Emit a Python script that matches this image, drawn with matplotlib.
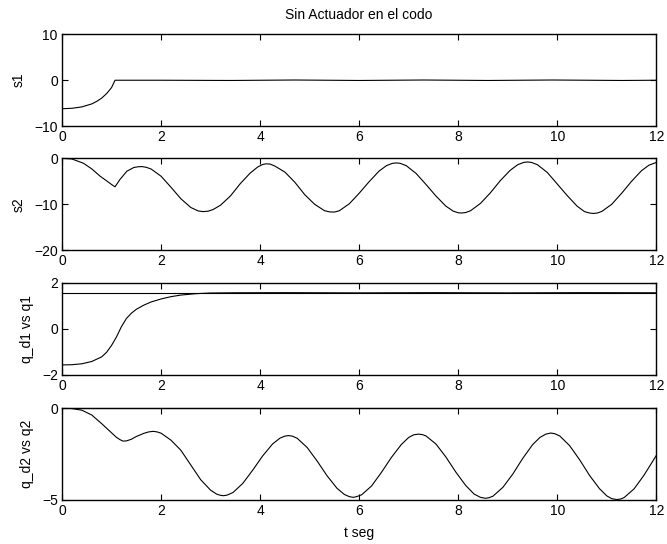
import numpy as np
import matplotlib
matplotlib.use("Agg")
import matplotlib.pyplot as plt

plt.rcParams['font.family'] = ['Liberation Sans', 'DejaVu Sans']
plt.rcParams['font.size'] = 10

# s1 (sliding surface 1)
t_s1 = [0, 0.2, 0.4, 0.6, 0.7, 0.8, 0.9, 1.0, 1.07, 2.0, 3.4, 4.7, 6.0, 7.3, 8.6, 9.9, 11.3, 12.0]
s1 = [-6.2, -6.1, -5.8, -5.15, -4.6, -3.9, -2.9, -1.6, 0.0, 0.0, -0.05, 0.05, -0.05, 0.05, -0.05, 0.05, -0.05, 0.0]

# s2 (sliding surface 2)
t_s2 = [0, 0.2, 0.43, 0.6, 0.77, 0.9, 1.0, 1.07, 1.17, 1.31, 1.45, 1.53, 1.61, 1.7,
        1.8, 2.0, 2.2, 2.4, 2.6, 2.75, 2.85, 2.95,
        3.05, 3.2, 3.4, 3.6, 3.8, 3.95, 4.05, 4.12, 4.2,
        4.3, 4.5, 4.7, 4.9, 5.1, 5.3, 5.4, 5.5,
        5.6, 5.8, 6.0, 6.2, 6.4, 6.55, 6.67, 6.75, 6.83,
        6.95, 7.15, 7.35, 7.55, 7.75, 7.9, 8.0, 8.07, 8.15,
        8.25, 8.45, 8.65, 8.85, 9.05, 9.2, 9.32, 9.4, 9.48,
        9.6, 9.8, 10.0, 10.2, 10.4, 10.55, 10.65, 10.73, 10.81,
        10.9, 11.1, 11.3, 11.5, 11.7, 11.85, 12.0]
s2 = [0, -0.15, -1.06, -2.3, -3.9, -4.9, -5.7, -6.2, -4.6, -2.8, -2.0, -1.85, -1.8, -1.95,
      -2.34, -3.9, -6.3, -8.8, -10.7, -11.45, -11.6, -11.5,
      -11.15, -10.2, -8.2, -5.5, -3.2, -1.9, -1.35, -1.2, -1.25,
      -1.7, -3.0, -5.2, -7.9, -10.0, -11.4, -11.65, -11.7,
      -11.4, -9.9, -7.6, -5.1, -2.8, -1.6, -1.1, -1.0, -1.1,
      -1.6, -3.3, -5.7, -8.2, -10.4, -11.5, -11.85, -11.9, -11.8,
      -11.4, -9.8, -7.5, -4.85, -2.6, -1.4, -0.9, -0.8, -0.9,
      -1.4, -3.1, -5.6, -8.1, -10.4, -11.6, -11.9, -12.0, -11.9,
      -11.55, -10.0, -7.6, -5.0, -2.7, -1.5, -0.9]

# joint 1: desired and actual
t_qd1 = [0, 12]
qd1 = [1.5708, 1.5708]
t_q1 = [0, 0.2, 0.4, 0.6, 0.8, 0.9, 1.0, 1.1, 1.2, 1.3, 1.4, 1.5, 1.65, 1.8,
        2.0, 2.2, 2.4, 2.7, 3.0, 3.5, 4.5, 6.0, 7.5, 9.0, 10.5, 12.0]
q1 = [-1.57, -1.56, -1.52, -1.42, -1.22, -1.02, -0.72, -0.35, 0.1, 0.45, 0.68, 0.85, 1.03, 1.17,
      1.3, 1.4, 1.47, 1.53, 1.56, 1.57, 1.575, 1.565, 1.575, 1.565, 1.575, 1.57]

# joint 2: desired and actual
t_qd2 = [0, 12]
qd2 = [0, 0]
t_q2 = [0, 0.2, 0.4, 0.6, 0.8, 1.0, 1.1, 1.17, 1.23, 1.3, 1.4, 1.5, 1.65, 1.75, 1.84, 1.92,
        2.0, 2.2, 2.4, 2.6, 2.8, 3.0, 3.12, 3.2, 3.26, 3.33,
        3.45, 3.65, 3.85, 4.05, 4.25, 4.4, 4.5, 4.57, 4.65,
        4.75, 4.95, 5.15, 5.35, 5.55, 5.7, 5.8, 5.88, 5.95,
        6.05, 6.25, 6.45, 6.65, 6.85, 7.0, 7.1, 7.2, 7.28,
        7.35, 7.55, 7.75, 7.95, 8.15, 8.32, 8.45, 8.55, 8.62,
        8.7, 8.9, 9.1, 9.3, 9.5, 9.65, 9.77, 9.87, 9.95,
        10.05, 10.25, 10.45, 10.65, 10.85, 11.0, 11.1, 11.2, 11.28,
        11.35, 11.55, 11.75, 12.0]
q2 = [0, -0.03, -0.12, -0.38, -0.85, -1.35, -1.6, -1.72, -1.8, -1.79, -1.7, -1.55, -1.38, -1.3, -1.27, -1.3,
      -1.37, -1.75, -2.3, -3.1, -3.9, -4.47, -4.68, -4.75, -4.77, -4.74,
      -4.6, -4.1, -3.38, -2.61, -1.96, -1.64, -1.53, -1.5, -1.53,
      -1.65, -2.15, -2.88, -3.68, -4.36, -4.7, -4.82, -4.86, -4.82,
      -4.72, -4.24, -3.5, -2.69, -1.99, -1.6, -1.46, -1.42, -1.45,
      -1.52, -1.96, -2.66, -3.48, -4.21, -4.68, -4.86, -4.91, -4.88,
      -4.8, -4.32, -3.6, -2.75, -2.0, -1.6, -1.42, -1.36, -1.4,
      -1.52, -2.05, -2.81, -3.66, -4.38, -4.78, -4.93, -4.98, -4.95,
      -4.87, -4.4, -3.66, -2.58]

xticks = [0, 2, 4, 6, 8, 10, 12]

fig = plt.figure(figsize=(6.67, 5.44), dpi=100)
rects = [[0.093, 0.768, 0.891, 0.169],
         [0.093, 0.540, 0.891, 0.169],
         [0.093, 0.311, 0.891, 0.169],
         [0.093, 0.081, 0.891, 0.169]]
axs = [fig.add_axes(r) for r in rects]

axs[0].plot(t_s1, s1, color='k', lw=0.8)
axs[0].set_ylim(-10, 10)
axs[0].set_yticks([-10, 0, 10])
axs[0].set_ylabel('s1', labelpad=6)
axs[0].set_title('Sin Actuador en el codo', fontsize=10, pad=11)

axs[1].plot(t_s2, s2, color='k', lw=0.8)
axs[1].set_ylim(-20, 0)
axs[1].set_yticks([-20, -10, 0])
axs[1].set_ylabel('s2', labelpad=6)

axs[2].plot(t_qd1, qd1, color='k', lw=0.8)
axs[2].plot(t_q1, q1, color='k', lw=0.8)
axs[2].set_ylim(-2, 2)
axs[2].set_yticks([-2, 0, 2])
axs[2].set_ylabel('q_d1 vs q1', labelpad=6)

axs[3].plot(t_qd2, qd2, color='k', lw=0.8, clip_on=False)
axs[3].plot(t_q2, q2, color='k', lw=0.8)
axs[3].set_ylim(-5, 0)
axs[3].set_yticks([-5, 0])
axs[3].set_ylabel('q_d2 vs q2', labelpad=6)
axs[3].set_xlabel('t seg', labelpad=6)

for ax in axs:
    ax.set_xlim(0, 12)
    ax.set_xticks(xticks)
    ax.tick_params(direction='in', top=True, right=True, length=4, width=0.8, labelsize=10, pad=3)
    for sp in ax.spines.values():
        sp.set_linewidth(1.0)

fig.savefig('out.png', dpi=100)
